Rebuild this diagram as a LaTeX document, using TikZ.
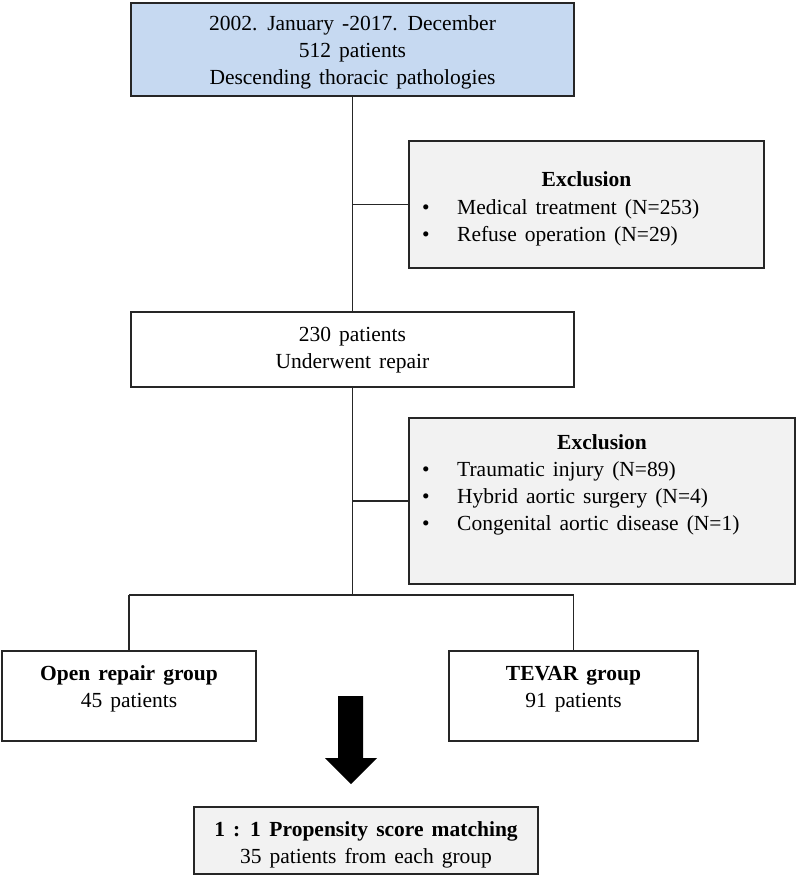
\documentclass[tikz,border=0pt]{standalone}
\usepackage{fontspec}
\setmainfont{Liberation Serif}[WordSpace=1.5]
\definecolor{topblue}{HTML}{C6D9F1}
\definecolor{exgray}{HTML}{F2F2F2}
\definecolor{edge}{HTML}{262626}
\newcommand{\fs}{\fontsize{21.5}{27}\selectfont}
\begin{document}
\begin{tikzpicture}[x=1pt,y=-1pt,
  box/.style={draw=edge, line width=1.3pt, inner sep=0pt, outer sep=0pt, rectangle},
  txt/.style={inner sep=0pt, font=\fs, align=center},
  conn/.style={draw=edge, line width=1.3pt}]
\useasboundingbox (0,0) rectangle (797,876);

% boxes
\node[box, fill=topblue, minimum width=443pt, minimum height=93pt] (top) at (352.5,49.5) {};
\node[box, fill=exgray, minimum width=355pt, minimum height=127pt] (ex1) at (586.5,204.5) {};
\node[box, fill=white, minimum width=443pt, minimum height=75pt] (mid) at (352.5,349.5) {};
\node[box, fill=exgray, minimum width=386pt, minimum height=166pt] (ex2) at (602,501) {};
\node[box, fill=white, minimum width=254pt, minimum height=90pt] (open) at (129,696) {};
\node[box, fill=white, minimum width=249pt, minimum height=90pt] (tevar) at (573.5,696) {};
\node[box, fill=exgray, minimum width=344pt, minimum height=67pt] (pm) at (366,840.5) {};

% texts
\node[txt] (topT) at (352.5,52) {2002. January -2017. December\\512 patients\\Descending thoracic pathologies};
\node[txt] (ex1T) at (586.5,179) {\textbf{Exclusion}};
\node[txt, anchor=west] (ex1L) at (422,222.5) {\begin{tabular}{@{}p{35pt}@{}l@{}}•&Medical treatment (N=253)\\•&Refuse operation (N=29)\end{tabular}};
\node[txt] (midT) at (352.5,350) {230 patients\\Underwent repair};
\node[txt] (ex2T) at (602,442) {\textbf{Exclusion}};
\node[txt, anchor=west] (ex2L) at (422,498.5) {\begin{tabular}{@{}p{35pt}@{}l@{}}•&Traumatic injury (N=89)\\•&Hybrid aortic surgery (N=4)\\•&Congenital aortic disease (N=1)\end{tabular}};
\node[txt] (openT) at (129,689) {\textbf{Open repair group}\\45 patients};
\node[txt] (tevarT) at (573.5,689) {\textbf{TEVAR group}\\91 patients};
\node[txt] (pmT) at (366,844.5) {\textbf{1 : 1\hspace{0.4em}Propensity score matching}\\35 patients from each group};

% connectors
\draw[conn] (top.south) -- (mid.north);
\draw[conn] (ex1.west -| top.south) -- (ex1.west);
\coordinate (split) at (352.5,595);
\draw[conn] (mid.south) -- (split);
\draw[conn] (ex2.west -| mid.south) -- (ex2.west);
\draw[conn] (open.north |- split) -- (tevar.north |- split);
\draw[conn] (open.north |- split) -- (open.north);
\draw[conn] (tevar.north |- split) -- (tevar.north);

% block arrow
\fill[black] (338,696) -- (363,696) -- (363,758) -- (377,758) -- (351,784) -- (325,758) -- (338,758) -- cycle;
\end{tikzpicture}
\end{document}
